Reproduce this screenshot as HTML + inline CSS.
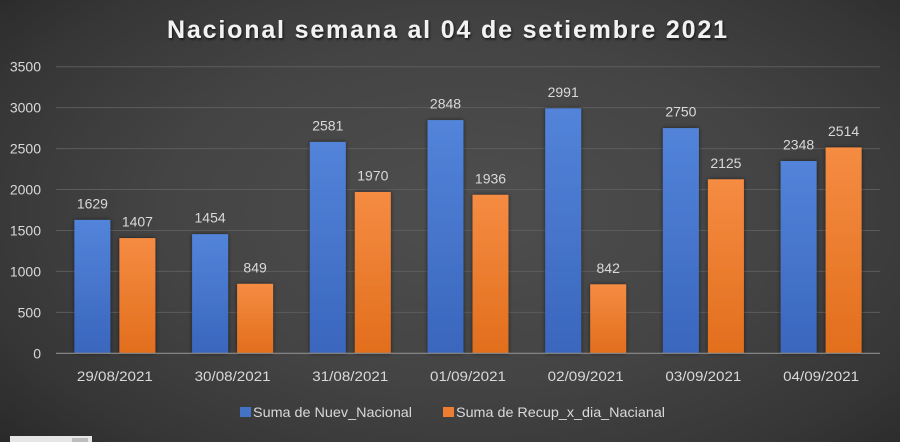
<!DOCTYPE html>
<html><head><meta charset="utf-8">
<style>
html,body{margin:0;padding:0;}
body{width:900px;height:442px;overflow:hidden;background:#333;}
.bg{position:absolute;left:0;top:0;width:900px;height:442px;
background:radial-gradient(ellipse 75% 85% at 52% 48%, #4e4e4e 0%, #444 45%, #363636 75%, #242424 100%);}
svg{position:absolute;left:0;top:0;}
text{font-family:"Liberation Sans",sans-serif;}
</style></head>
<body>
<div class="bg"></div>
<svg width="900" height="442" viewBox="0 0 900 442" xmlns="http://www.w3.org/2000/svg">
<defs>
<linearGradient id="gb" x1="0" y1="0" x2="0" y2="1">
<stop offset="0" stop-color="#5284da"/><stop offset="1" stop-color="#3a66bd"/>
</linearGradient>
<linearGradient id="go" x1="0" y1="0" x2="0" y2="1">
<stop offset="0" stop-color="#f58c42"/><stop offset="1" stop-color="#e26e1d"/>
</linearGradient>
<filter id="sh" x="-30%" y="-10%" width="160%" height="130%">
<feDropShadow dx="0" dy="0" stdDeviation="2" flood-color="#000" flood-opacity="0.55"/>
</filter>
<filter id="tsh" x="-5%" y="-30%" width="110%" height="160%">
<feDropShadow dx="1" dy="1.5" stdDeviation="1.2" flood-color="#000" flood-opacity="0.7"/>
</filter>
</defs>

<!-- title -->
<text x="167" y="38" font-size="25" font-weight="bold" fill="#f2f2f2" textLength="560" lengthAdjust="spacing" filter="url(#tsh)">Nacional semana al 04 de setiembre 2021</text>

<!-- gridlines -->
<g stroke="#5c5c5c" stroke-width="1">
<line x1="56" y1="66.7" x2="880" y2="66.7"/>
<line x1="56" y1="107.6" x2="880" y2="107.6"/>
<line x1="56" y1="148.6" x2="880" y2="148.6"/>
<line x1="56" y1="189.5" x2="880" y2="189.5"/>
<line x1="56" y1="230.5" x2="880" y2="230.5"/>
<line x1="56" y1="271.4" x2="880" y2="271.4"/>
<line x1="56" y1="312.4" x2="880" y2="312.4"/>
</g>

<!-- y labels -->
<g font-size="14" fill="#d9d9d9" text-anchor="end">
<text x="41" y="71.7">3500</text>
<text x="41" y="112.6">3000</text>
<text x="41" y="153.6">2500</text>
<text x="41" y="194.5">2000</text>
<text x="41" y="235.5">1500</text>
<text x="41" y="276.4">1000</text>
<text x="41" y="317.4">500</text>
<text x="41" y="358.3">0</text>
</g>

<!-- bars -->
<g filter="url(#sh)">
<rect x="74.4" y="219.9" width="36" height="133.4" fill="url(#gb)"/>
<rect x="119.4" y="238.1" width="36" height="115.2" fill="url(#go)"/>
<rect x="192.1" y="234.2" width="36" height="119.1" fill="url(#gb)"/>
<rect x="237.1" y="283.8" width="36" height="69.5" fill="url(#go)"/>
<rect x="309.8" y="141.95" width="36" height="211.35" fill="url(#gb)"/>
<rect x="354.8" y="191.98" width="36" height="161.32" fill="url(#go)"/>
<rect x="427.5" y="120.09" width="36" height="233.21" fill="url(#gb)"/>
<rect x="472.5" y="194.77" width="36" height="158.53" fill="url(#go)"/>
<rect x="545.2" y="108.38" width="36" height="244.92" fill="url(#gb)"/>
<rect x="590.2" y="284.35" width="36" height="68.95" fill="url(#go)"/>
<rect x="662.9" y="128.11" width="36" height="225.19" fill="url(#gb)"/>
<rect x="707.9" y="179.29" width="36" height="174.01" fill="url(#go)"/>
<rect x="780.6" y="161.03" width="36" height="192.27" fill="url(#gb)"/>
<rect x="825.6" y="147.44" width="36" height="205.86" fill="url(#go)"/>
</g>

<!-- axis line -->
<line x1="56" y1="353.3" x2="880" y2="353.3" stroke="#8c8c8c" stroke-width="1.2"/>

<!-- data labels -->
<g font-size="14" fill="#d9d9d9" text-anchor="middle">
<text x="92.4" y="208.4">1629</text>
<text x="137.4" y="226.6">1407</text>
<text x="210.1" y="222.7">1454</text>
<text x="255.1" y="272.3">849</text>
<text x="327.8" y="130.4">2581</text>
<text x="372.8" y="180.5">1970</text>
<text x="445.5" y="108.6">2848</text>
<text x="490.5" y="183.3">1936</text>
<text x="563.2" y="96.9">2991</text>
<text x="608.2" y="272.9">842</text>
<text x="680.9" y="116.6">2750</text>
<text x="725.9" y="167.8">2125</text>
<text x="798.6" y="149.5">2348</text>
<text x="843.6" y="135.9">2514</text>
</g>

<!-- x labels -->
<g font-size="14" fill="#d9d9d9">
<text x="76.9" y="381" textLength="76" lengthAdjust="spacingAndGlyphs">29/08/2021</text>
<text x="194.6" y="381" textLength="76" lengthAdjust="spacingAndGlyphs">30/08/2021</text>
<text x="312.3" y="381" textLength="76" lengthAdjust="spacingAndGlyphs">31/08/2021</text>
<text x="430" y="381" textLength="76" lengthAdjust="spacingAndGlyphs">01/09/2021</text>
<text x="547.7" y="381" textLength="76" lengthAdjust="spacingAndGlyphs">02/09/2021</text>
<text x="665.4" y="381" textLength="76" lengthAdjust="spacingAndGlyphs">03/09/2021</text>
<text x="783.1" y="381" textLength="76" lengthAdjust="spacingAndGlyphs">04/09/2021</text>
</g>

<!-- legend -->
<rect x="240" y="407" width="11" height="10" fill="#4472c4"/>
<text x="253" y="417" font-size="14" fill="#d9d9d9" textLength="159" lengthAdjust="spacingAndGlyphs">Suma de Nuev_Nacional</text>
<rect x="443" y="407" width="11" height="10" fill="#ed7d31"/>
<text x="456" y="417" font-size="14" fill="#d9d9d9" textLength="209" lengthAdjust="spacingAndGlyphs">Suma de Recup_x_dia_Nacianal</text>

<!-- small box bottom-left -->
<rect x="10" y="436" width="82" height="6" fill="#e6e6e6"/>
<rect x="72" y="438" width="16" height="4" fill="#bdbdbd"/>
</svg>
</body></html>
